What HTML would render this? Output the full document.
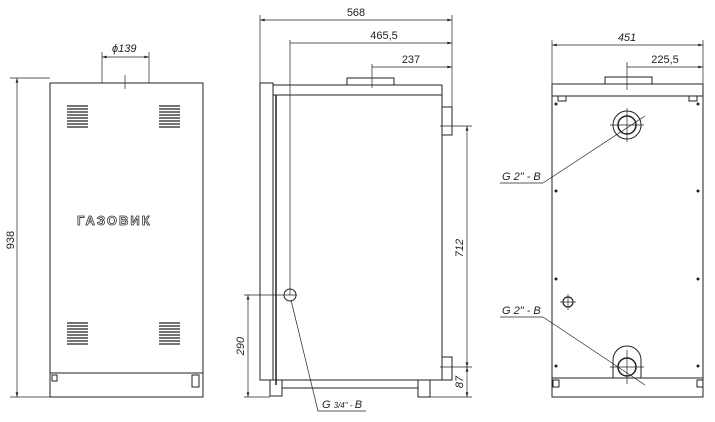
<!DOCTYPE html>
<html><head><meta charset="utf-8"><style>
html,body{margin:0;padding:0;background:#fff;width:715px;height:422px;overflow:hidden}
svg{display:block}
text{font-family:"Liberation Sans",sans-serif;font-size:11px;fill:#222;stroke:none}
.i{font-style:italic}
</style></head><body>
<svg width="715" height="422" viewBox="0 0 715 422" fill="none" stroke="#222" stroke-width="1">
<defs>
<marker id="a" viewBox="0 0 10 6" refX="10" refY="3" markerWidth="8" markerHeight="4" orient="auto-start-reverse"><path d="M0 0L10 3L0 6z" fill="#222" stroke="none"/></marker>
</defs>
<!-- FRONT VIEW -->
<rect x="50" y="83" width="153" height="290"/>
<rect x="50" y="373" width="153" height="24"/>
<line x1="50" y1="397" x2="10" y2="397" stroke-width="0.7"/>
<line x1="50" y1="78" x2="10" y2="78" stroke-width="0.7"/>
<line x1="17" y1="78" x2="17" y2="397" marker-start="url(#a)" marker-end="url(#a)" stroke-width="0.7"/>
<text x="14" y="240" transform="rotate(-90 14 240)" text-anchor="middle">938</text>
<rect x="52" y="375" width="5" height="6"/><rect x="192" y="375" width="7" height="12"/>
<line x1="102" y1="52" x2="102" y2="83" stroke-width="0.7"/>
<line x1="149" y1="52" x2="149" y2="83" stroke-width="0.7"/>
<line x1="102" y1="57" x2="149" y2="57" marker-start="url(#a)" marker-end="url(#a)" stroke-width="0.7"/>
<line x1="125" y1="75" x2="125" y2="89" stroke-width="0.7"/>
<text x="112" y="52" class="i">ϕ139</text>
<g stroke-width="1.3">
<path d="M67 106h21M67 109h21M67 112h21M67 115h21M67 118h21M67 121h21M67 124h21M67 127h21"/>
<path d="M159 106h21M159 109h21M159 112h21M159 115h21M159 118h21M159 121h21M159 124h21M159 127h21"/>
<path d="M67 323h21M67 326h21M67 329h21M67 332h21M67 335h21M67 338h21M67 341h21M67 344h21"/>
<path d="M159 323h21M159 326h21M159 329h21M159 332h21M159 335h21M159 338h21M159 341h21M159 344h21"/>
</g>
<text x="77" y="225" style="font-size:13px;letter-spacing:2px;fill:#fff;stroke:#333;stroke-width:0.8;font-weight:bold">ГАЗОВИК</text>
<!-- SIDE VIEW -->
<rect x="260" y="83" width="13" height="297"/>
<rect x="273" y="85" width="169" height="10"/>
<rect x="273" y="95" width="169" height="285"/>
<line x1="276" y1="95" x2="276" y2="385" stroke-width="1.5"/>
<rect x="347" y="78" width="47" height="7"/>
<rect x="442" y="107" width="10" height="28"/><rect x="442" y="357" width="10" height="23"/>
<rect x="270" y="380" width="12" height="16"/><rect x="418" y="380" width="12" height="17"/>
<line x1="282" y1="388" x2="418" y2="388"/>
<line x1="260" y1="15" x2="260" y2="83" stroke-width="0.7"/>
<line x1="452" y1="15" x2="452" y2="107" stroke-width="0.7"/>
<line x1="260" y1="20" x2="452" y2="20" marker-start="url(#a)" marker-end="url(#a)" stroke-width="0.7"/>
<text x="356" y="16" text-anchor="middle">568</text>
<line x1="290" y1="40" x2="290" y2="295" stroke-width="0.7"/>
<line x1="290" y1="43" x2="452" y2="43" marker-end="url(#a)" stroke-width="0.7"/>
<text x="384" y="39" text-anchor="middle">465,5</text>
<line x1="372" y1="64" x2="372" y2="88" stroke-width="0.7"/>
<line x1="372" y1="67" x2="452" y2="67" marker-end="url(#a)" stroke-width="0.7"/>
<text x="411" y="63" text-anchor="middle">237</text>
<path d="M440 126H472M440 367H472M430 397H472" stroke-width="0.7"/>
<line x1="467" y1="126" x2="467" y2="367" marker-start="url(#a)" marker-end="url(#a)" stroke-width="0.7"/>
<line x1="467" y1="367" x2="467" y2="397" marker-start="url(#a)" marker-end="url(#a)" stroke-width="0.7"/>
<text x="463" y="248" transform="rotate(-90 463 248)" text-anchor="middle" class="i">712</text>
<text x="463" y="382" transform="rotate(-90 463 382)" text-anchor="middle" class="i">87</text>
<circle cx="290" cy="295" r="6"/>
<line x1="244" y1="295" x2="297" y2="295" stroke-width="0.7"/>
<line x1="244" y1="397" x2="270" y2="397" stroke-width="0.7"/>
<line x1="248" y1="295" x2="248" y2="397" marker-start="url(#a)" marker-end="url(#a)" stroke-width="0.7"/>
<text x="244" y="346" transform="rotate(-90 244 346)" text-anchor="middle" class="i">290</text>
<path d="M291 300L318 411H366" stroke-width="0.7"/>
<text x="322" y="408" class="i">G <tspan style="font-size:8px">3/4" - </tspan>B</text>
<!-- BACK VIEW -->
<rect x="552" y="84" width="151" height="12"/>
<rect x="552" y="96" width="151" height="282"/>
<rect x="552" y="378" width="151" height="19"/>
<rect x="605" y="77" width="47" height="7"/>
<rect x="558" y="96" width="8" height="5"/><rect x="689" y="96" width="8" height="5"/>
<rect x="553" y="380" width="6" height="7"/><rect x="697" y="380" width="6" height="7"/>
<g fill="#222" stroke="none">
<circle cx="556" cy="104" r="1.5"/><circle cx="698" cy="104" r="1.5"/>
<circle cx="556" cy="191" r="1.5"/><circle cx="698" cy="191" r="1.5"/>
<circle cx="556" cy="279" r="1.5"/><circle cx="698" cy="279" r="1.5"/>
<circle cx="556" cy="366" r="1.5"/><circle cx="698" cy="366" r="1.5"/>
</g>
<line x1="552" y1="40" x2="552" y2="84" stroke-width="0.7"/>
<line x1="703" y1="40" x2="703" y2="84" stroke-width="0.7"/>
<line x1="552" y1="45" x2="703" y2="45" marker-start="url(#a)" marker-end="url(#a)" stroke-width="0.7"/>
<text x="627" y="41" text-anchor="middle" class="i">451</text>
<line x1="627" y1="62" x2="627" y2="90" stroke-width="0.7"/>
<line x1="627" y1="67" x2="703" y2="67" marker-end="url(#a)" stroke-width="0.7"/>
<text x="665" y="63" text-anchor="middle">225,5</text>
<circle cx="627" cy="125" r="9" stroke-width="1.5"/><circle cx="627" cy="125" r="14"/>
<path d="M610 125H644M627 108V142" stroke-width="0.7"/>
<path d="M543 183H500M543 183L645 116" stroke-width="0.7"/>
<text x="502" y="180" class="i">G 2" - B</text>
<circle cx="627" cy="367" r="9" stroke-width="1.5"/>
<path d="M613 378V360A14 14 0 0 1 641 360V378" />
<path d="M610 367H644M627 350V384" stroke-width="0.7"/>
<path d="M543 317H500M543 317L645 385" stroke-width="0.7"/>
<text x="502" y="314" class="i">G 2" - B</text>
<circle cx="568" cy="302" r="5" stroke-width="1.2"/>
<path d="M560 302H576M568 294V310" stroke-width="0.7"/>
</svg>
</body></html>
